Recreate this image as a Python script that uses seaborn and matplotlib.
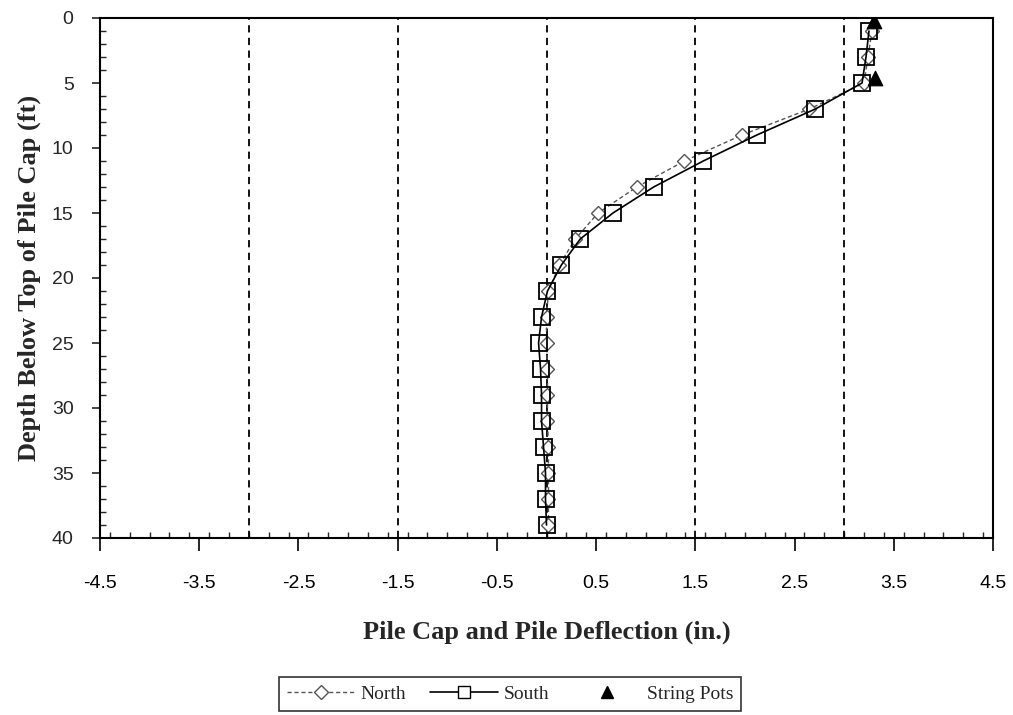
import numpy as np
import pandas as pd
import matplotlib
matplotlib.use("Agg")
import matplotlib.pyplot as plt
from matplotlib.lines import Line2D
from matplotlib.ticker import MultipleLocator, FixedLocator
import seaborn as sns

# ---- data ----
depth = [1, 3, 5, 7, 9, 11, 13, 15, 17, 19, 21, 23, 25, 27, 29, 31, 33, 35, 37, 39]
north = [3.28, 3.24, 3.20, 2.65, 1.97, 1.39, 0.91, 0.52, 0.29, 0.13, 0.02, 0.00, 0.00,
         0.01, 0.01, 0.01, 0.02, 0.02, 0.02, 0.02]
south = [3.25, 3.22, 3.18, 2.71, 2.12, 1.58, 1.08, 0.67, 0.34, 0.15, 0.01, -0.05, -0.08,
         -0.06, -0.05, -0.05, -0.03, -0.01, -0.01, 0.00]
pot_depth = [0.2, 4.6]
pot_defl = [3.30, 3.31]
ref_lines = [-3.0, -1.5, 0.0, 1.5, 3.0]
xticks = [-4.5, -3.5, -2.5, -1.5, -0.5, 0.5, 1.5, 2.5, 3.5, 4.5]
yticks = [0, 5, 10, 15, 20, 25, 30, 35, 40]

sns.set_theme(style="white")
serif = ["Liberation Serif", "DejaVu Serif"]
narrow = ["Liberation Sans Narrow", "Liberation Sans", "DejaVu Sans"]
plt.rcParams['font.family'] = serif

fig = plt.figure(figsize=(10.13, 7.15), dpi=100)
ax = fig.add_axes([100/1013, 1-538/715, 893/1013, 520/715])

for xv in ref_lines:
    ax.axvline(xv, color="black", lw=1.3, ls=(0, (4, 3)), zorder=1)

dfn = pd.DataFrame({"x": north, "y": depth})
dfs = pd.DataFrame({"x": south, "y": depth})
sns.lineplot(data=dfn, x="x", y="y", sort=False, estimator=None, ax=ax,
             color="#555555", lw=1.0, ls=(0, (3, 2)), marker="D", markersize=7,
             markerfacecolor="white", markeredgecolor="#555555", markeredgewidth=1.0, zorder=3)
sns.lineplot(data=dfs, x="x", y="y", sort=False, estimator=None, ax=ax,
             color="black", lw=1.2, marker="s", markersize=11,
             markerfacecolor="none", markeredgecolor="black", markeredgewidth=1.3, zorder=4)
sns.scatterplot(x=pot_defl, y=pot_depth, ax=ax, marker="^", s=110, color="black",
                edgecolor="black", zorder=5)

ax.set_xlim(-4.5, 4.5)
ax.set_ylim(40, 0)
ax.xaxis.set_major_locator(FixedLocator(xticks))
ax.xaxis.set_minor_locator(MultipleLocator(0.2))
ax.yaxis.set_major_locator(FixedLocator(yticks))
ax.yaxis.set_minor_locator(MultipleLocator(1))
ax.tick_params(axis="x", which="major", direction="out", length=9, width=1.2, pad=18,
               colors="black", bottom=True)
ax.tick_params(axis="x", which="minor", direction="in", length=4, width=1.0, bottom=True)
ax.tick_params(axis="y", which="major", direction="out", length=6, width=1.2, pad=13,
               left=True)
ax.tick_params(axis="y", which="minor", direction="in", length=4, width=1.0, left=True)
ax.set_xticklabels([f"{v:g}" for v in xticks], family=narrow, fontsize=14)
ax.set_yticklabels([str(v) for v in yticks], family=narrow, fontsize=14)

for s in ax.spines.values():
    s.set_color("black")
    s.set_linewidth(1.5)

ax.set_xlabel("Pile Cap and Pile Deflection (in.)", fontsize=19, fontweight="bold",
              family=serif, labelpad=20)
ax.set_ylabel("Depth Below Top of Pile Cap (ft)", fontsize=19, fontweight="bold",
              family=serif, labelpad=8)

handles = [
    Line2D([], [], color="#555555", lw=1.0, ls=(0, (3, 2)), marker="D", markersize=7,
           markerfacecolor="white", markeredgecolor="#555555"),
    Line2D([], [], color="black", lw=1.2, marker="s", markersize=9,
           markerfacecolor="white", markeredgecolor="black"),
    Line2D([], [], color="black", lw=0, marker="^", markersize=9),
]
leg = fig.legend(handles, ["North", "South", "String Pots"], loc="center",
                 bbox_to_anchor=(510/1013, 1-694/715), ncol=3, frameon=True,
                 fancybox=False, edgecolor="black", handlelength=3.5, columnspacing=1.2,
                 handletextpad=0.3, prop={"family": serif, "size": 14}, borderpad=0.4)
leg.get_frame().set_linewidth(1.2)

fig.savefig("out.png", dpi=100, facecolor="white")
